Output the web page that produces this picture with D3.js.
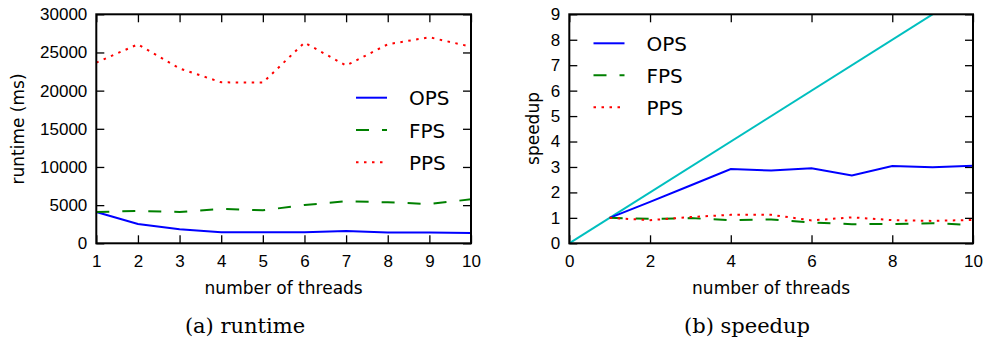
<!DOCTYPE html>
<html>
<head>
<meta charset="utf-8">
<script src="https://cdn.jsdelivr.net/npm/d3@7"></script>
<style>
  body { margin: 0; background: #fff; }
  svg { display: block; font-family: "DejaVu Sans", sans-serif; }
  .tick line { stroke: #000; stroke-width: 1.3; }
  .tick text { font-size: 17px; fill: #000; }
</style>
</head>
<body>
<svg id="chart" width="986" height="344"></svg>
<script>
var threads = [1, 2, 3, 4, 5, 6, 7, 8, 9, 10];
var runtimeOPS = [4100, 2530, 1830, 1440, 1440, 1440, 1600, 1400, 1400, 1350];
var runtimeFPS = [4100, 4240, 4100, 4500, 4320, 5020, 5500, 5370, 5150, 5760];
var runtimePPS = [23670, 26070, 22900, 21090, 21050, 26290, 23280, 26070, 26990, 25760];
var speedupOPS = [1.0, 1.63, 2.27, 2.92, 2.86, 2.95, 2.67, 3.04, 2.99, 3.05];
var speedupFPS = [1.0, 0.96, 0.99, 0.91, 0.94, 0.82, 0.75, 0.76, 0.79, 0.72];
var speedupPPS = [1.0, 0.91, 1.03, 1.12, 1.12, 0.90, 1.02, 0.91, 0.88, 0.92];
var idealThreads = [0, 10];
var idealSpeedup = [0, 10];
var seriesNames = ["OPS", "FPS", "PPS"];
var runtimeTicks = [0, 5000, 10000, 15000, 20000, 25000, 30000];
var speedupTicks = [0, 1, 2, 3, 4, 5, 6, 7, 8, 9];
var speedupXTicks = [0, 2, 4, 6, 8, 10];

var styles = {
  OPS: { color: "#0000ff", dash: null },
  FPS: { color: "#008000", dash: "13,13" },
  PPS: { color: "#ff0000", dash: "2.5,5.5" }
};

var svg = d3.select("#chart");
var plotTop = 14.3, plotBottom = 243.3;
var fmt = d3.format("d");

function panel(opt) {
  var x = d3.scaleLinear().domain(opt.xDomain).range([opt.left, opt.right]);
  var y = d3.scaleLinear().domain(opt.yDomain).range([plotBottom, plotTop]);
  var g = svg.append("g");

  g.append("clipPath").attr("id", opt.id + "-clip")
    .append("rect").attr("x", opt.left).attr("y", plotTop)
    .attr("width", opt.right - opt.left).attr("height", plotBottom - plotTop);

  // axes with inward ticks on all four sides
  g.append("g").attr("transform", "translate(0," + plotBottom + ")")
    .call(d3.axisBottom(x).tickValues(opt.xTicks).tickFormat(fmt).tickSize(-8).tickSizeOuter(0).tickPadding(12));
  g.append("g").attr("transform", "translate(" + opt.left + ",0)")
    .call(d3.axisLeft(y).tickValues(opt.yTicks).tickFormat(fmt).tickSize(-8).tickSizeOuter(0).tickPadding(9));
  g.append("g").attr("transform", "translate(0," + plotTop + ")")
    .call(d3.axisTop(x).tickValues(opt.xTicks).tickSize(-8).tickSizeOuter(0).tickFormat(""));
  g.append("g").attr("transform", "translate(" + opt.right + ",0)")
    .call(d3.axisRight(y).tickValues(opt.yTicks).tickSize(-8).tickSizeOuter(0).tickFormat(""));
  g.selectAll(".domain").remove();

  var plot = g.append("g").attr("clip-path", "url(#" + opt.id + "-clip)");
  var line = d3.line().x(function (d) { return x(d[0]); }).y(function (d) { return y(d[1]); });
  opt.series.forEach(function (s) {
    plot.append("path")
      .attr("d", line(d3.zip(s.xs, s.ys)))
      .attr("fill", "none")
      .attr("stroke", s.color)
      .attr("stroke-width", 2)
      .attr("stroke-dasharray", s.dash);
  });

  g.append("rect").attr("x", opt.left).attr("y", plotTop)
    .attr("width", opt.right - opt.left).attr("height", plotBottom - plotTop)
    .attr("fill", "none").attr("stroke", "#000").attr("stroke-width", 2);

  // legend
  seriesNames.forEach(function (name, i) {
    var ly = opt.legendY + i * opt.legendStep;
    g.append("line").attr("x1", opt.legendX).attr("x2", opt.legendX + 31)
      .attr("y1", ly).attr("y2", ly)
      .attr("stroke", styles[name].color).attr("stroke-width", 2)
      .attr("stroke-dasharray", styles[name].dash);
    g.append("text").attr("x", opt.legendX + 53).attr("y", ly + 7.5)
      .attr("font-size", 20).text(name);
  });

  g.append("text").attr("x", (opt.left + opt.right) / 2).attr("y", 294)
    .attr("text-anchor", "middle").attr("font-size", 17).text("number of threads");
  g.append("text").attr("transform", "translate(" + opt.yLabelX + "," + opt.yLabelY + ") rotate(-90)")
    .attr("text-anchor", "middle").attr("font-size", 17).text(opt.yLabel);
  g.append("text").attr("x", opt.captionX).attr("y", 333)
    .attr("text-anchor", "middle").attr("font-size", 21)
    .attr("font-family", "'DejaVu Serif', serif").text(opt.caption);
}

panel({
  id: "runtime", left: 96.3, right: 471,
  xDomain: [1, 10], yDomain: [0, 30000],
  xTicks: threads, yTicks: runtimeTicks,
  series: [
    { xs: threads, ys: runtimeOPS, color: styles.OPS.color, dash: styles.OPS.dash },
    { xs: threads, ys: runtimeFPS, color: styles.FPS.color, dash: styles.FPS.dash },
    { xs: threads, ys: runtimePPS, color: styles.PPS.color, dash: styles.PPS.dash }
  ],
  legendX: 356, legendY: 97.7, legendStep: 32.3,
  yLabel: "runtime (ms)", yLabelX: 24, yLabelY: 129,
  caption: "(a) runtime", captionX: 245
});

panel({
  id: "speedup", left: 569.3, right: 973,
  xDomain: [0, 10], yDomain: [0, 9],
  xTicks: speedupXTicks, yTicks: speedupTicks,
  series: [
    { xs: idealThreads, ys: idealSpeedup, color: "#00bfbf", dash: null },
    { xs: threads, ys: speedupOPS, color: styles.OPS.color, dash: styles.OPS.dash },
    { xs: threads, ys: speedupFPS, color: styles.FPS.color, dash: styles.FPS.dash },
    { xs: threads, ys: speedupPPS, color: styles.PPS.color, dash: styles.PPS.dash }
  ],
  legendX: 593.5, legendY: 43.3, legendStep: 32,
  yLabel: "speedup", yLabelX: 539, yLabelY: 128.5,
  caption: "(b) speedup", captionX: 747
});
</script>
</body>
</html>
